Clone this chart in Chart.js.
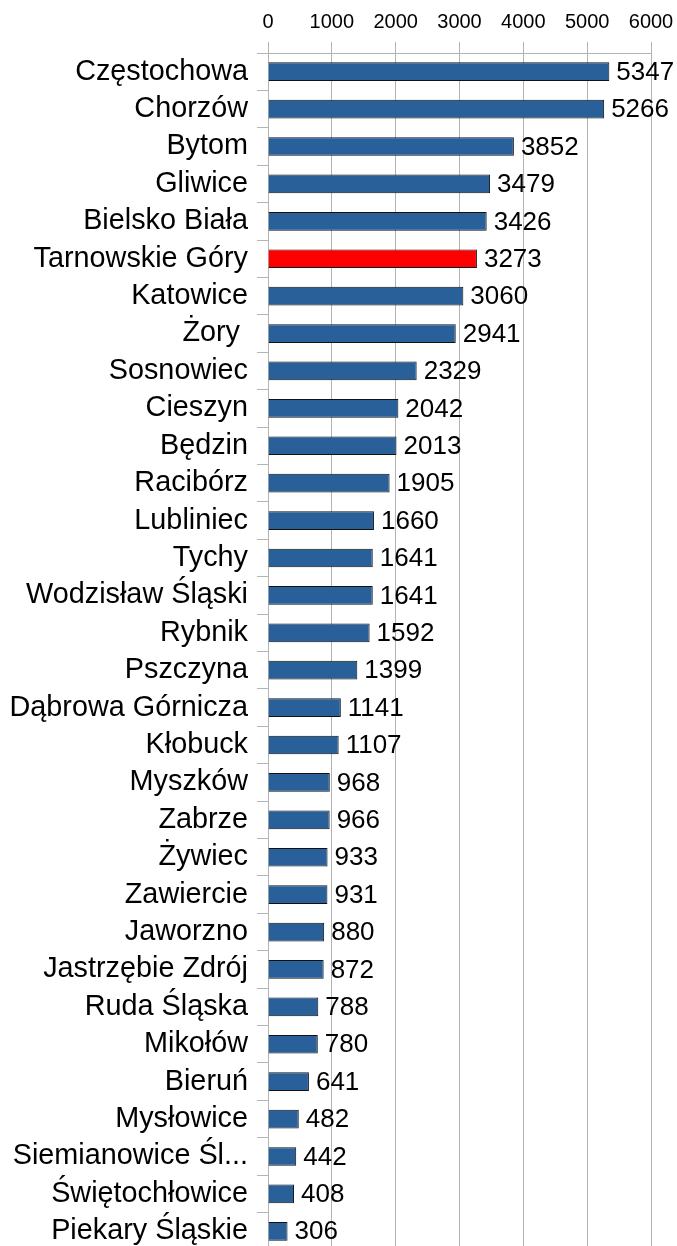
<!DOCTYPE html>
<html>
<head>
<meta charset="utf-8">
<script src="https://cdn.jsdelivr.net/npm/chart.js@4"></script>
<style>
  html, body { margin: 0; padding: 0; background: #fff; overflow: hidden; }
  #wrap { width: 677px; height: 1246px; overflow: hidden; }
</style>
</head>
<body>
<div id="wrap"><canvas id="barChart" width="677" height="1250"></canvas></div>
<script>
const cities = [
  'Częstochowa', 'Chorzów', 'Bytom', 'Gliwice', 'Bielsko Biała', 'Tarnowskie Góry',
  'Katowice', 'Żory ', 'Sosnowiec', 'Cieszyn', 'Będzin', 'Racibórz', 'Lubliniec',
  'Tychy', 'Wodzisław Śląski', 'Rybnik', 'Pszczyna', 'Dąbrowa Górnicza', 'Kłobuck',
  'Myszków', 'Zabrze', 'Żywiec', 'Zawiercie', 'Jaworzno', 'Jastrzębie Zdrój',
  'Ruda Śląska', 'Mikołów', 'Bieruń', 'Mysłowice', 'Siemianowice Śl...',
  'Świętochłowice', 'Piekary Śląskie'
];
const values = [
  5347, 5266, 3852, 3479, 3426, 3273, 3060, 2941, 2329, 2042, 2013, 1905, 1660,
  1641, 1641, 1592, 1399, 1141, 1107, 968, 966, 933, 931, 880, 872, 788, 780,
  641, 482, 442, 408, 306
];
const xTicks = [0, 1000, 2000, 3000, 4000, 5000, 6000];
const highlight = 'Tarnowskie Góry';

const FONT = "'Liberation Sans', Arial, sans-serif";

// value labels to the right of each bar
const valueLabels = {
  id: 'valueLabels',
  afterDatasetsDraw(chart) {
    const ctx = chart.ctx;
    const meta = chart.getDatasetMeta(0);
    ctx.save();
    ctx.font = '26px ' + FONT;
    ctx.fillStyle = '#000';
    ctx.textAlign = 'left';
    ctx.textBaseline = 'middle';
    meta.data.forEach((bar, i) => {
      ctx.fillText(String(values[i]), bar.x + 7, bar.y + 1);
    });
    ctx.restore();
  }
};

new Chart(document.getElementById('barChart'), {
  type: 'bar',
  data: {
    labels: cities,
    datasets: [{
      data: values,
      backgroundColor: cities.map(c => c === highlight ? '#ff0000' : '#2a6099'),
      borderColor: '#111',
      borderWidth: 1,
      barPercentage: 0.5,
      categoryPercentage: 1
    }]
  },
  options: {
    indexAxis: 'y',
    responsive: false,
    animation: false,
    layout: { padding: { top: 0, right: 26, bottom: 0, left: 0 } },
    plugins: { legend: { display: false }, tooltip: { enabled: false } },
    scales: {
      x: {
        position: 'top',
        min: 0,
        max: 6000,
        afterBuildTicks: s => { s.ticks = xTicks.map(v => ({ value: v })); },
        afterFit: s => { s.height = 53; s.paddingRight = 0; s.paddingLeft = 0; },
        ticks: {
          color: '#000', font: { family: FONT, size: 20 }, padding: 8, maxRotation: 0,
          callback: v => String(v)
        },
        grid: { color: '#b3b3b3', tickLength: 11, lineWidth: 1 },
        border: { color: '#b3b3b3' }
      },
      y: {
        afterFit: s => { s.width = 268; s.paddingTop = 0; s.paddingBottom = 0; },
        ticks: { color: '#000', font: { family: FONT, size: 28.8 }, padding: 9, autoSkip: false },
        grid: { drawOnChartArea: false, color: '#b3b3b3', tickLength: 11 },
        border: { color: '#b3b3b3' }
      }
    }
  },
  plugins: [valueLabels]
});
</script>
</body>
</html>
